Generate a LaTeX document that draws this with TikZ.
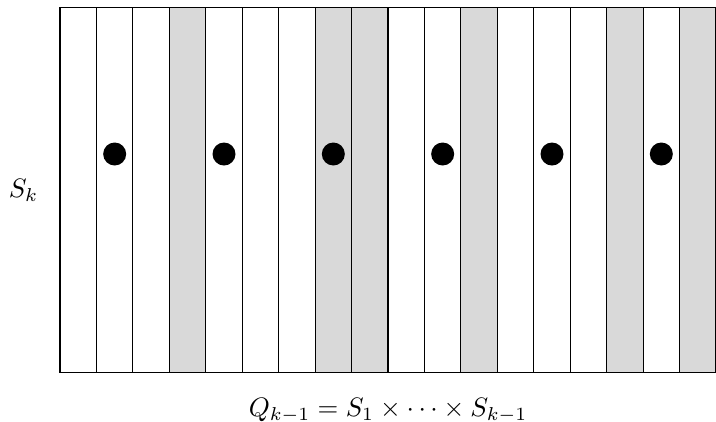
\documentclass[tikz,border=0pt]{standalone}
\usepackage{tikz}

\tikzset{every picture/.style={line width=0.4pt}}

\begin{document}
\begin{tikzpicture}[x=0.375pt,y=0.375pt,yscale=-1,xscale=1]
        \useasboundingbox (0,0) rectangle (716,421);
        % shaded strips
        \fill [black!15] (169.33,7.3) rectangle (205.78,372.7);
        \fill [black!15] (315.11,7.3) rectangle (388,372.7);
        \fill [black!15] (460.89,7.3) rectangle (497.33,372.7);
        \fill [black!15] (606.67,7.3) rectangle (643.11,372.7);
        \fill [black!15] (679.56,7.3) rectangle (716,372.7);
        % frame
        \draw   (60,7.3) -- (716,7.3) -- (716,372.7) -- (60,372.7) -- cycle ;
        % strip borders
        \draw    (96.44,7.3) -- (96.44,372.7) ;
        \draw    (132.89,7.3) -- (132.89,372.7) ;
        \draw    (169.33,7.3) -- (169.33,372.7) ;
        \draw    (205.78,7.3) -- (205.78,372.7) ;
        \draw    (242.22,7.3) -- (242.22,372.7) ;
        \draw    (278.67,7.3) -- (278.67,372.7) ;
        \draw    (315.11,7.3) -- (315.11,372.7) ;
        \draw    (351.56,7.3) -- (351.56,372.7) ;
        \draw    (388,7.3) -- (388,372.7) ;
        \draw    (424.44,7.3) -- (424.44,372.7) ;
        \draw    (460.89,7.3) -- (460.89,372.7) ;
        \draw    (497.33,7.3) -- (497.33,372.7) ;
        \draw    (533.78,7.3) -- (533.78,372.7) ;
        \draw    (570.22,7.3) -- (570.22,372.7) ;
        \draw    (606.67,7.3) -- (606.67,372.7) ;
        \draw    (643.11,7.3) -- (643.11,372.7) ;
        \draw    (679.56,7.3) -- (679.56,372.7) ;
        % points
        \fill   (114.67,154) circle (11.5) ;
        \fill   (224,154) circle (11.5) ;
        \fill   (333.33,154) circle (11.5) ;
        \fill   (442.67,154) circle (11.5) ;
        \fill   (552,154) circle (11.5) ;
        \fill   (661.33,154) circle (11.5) ;

        \draw (23.5,197) node [anchor=base][inner sep=0.75pt]    {$S_k$};
        \draw (388,416) node [anchor=base][inner sep=0.75pt]    {$Q_{k-1} = S_1 \times \cdots \times S_{k-1}$};
    \end{tikzpicture}
\end{document}
